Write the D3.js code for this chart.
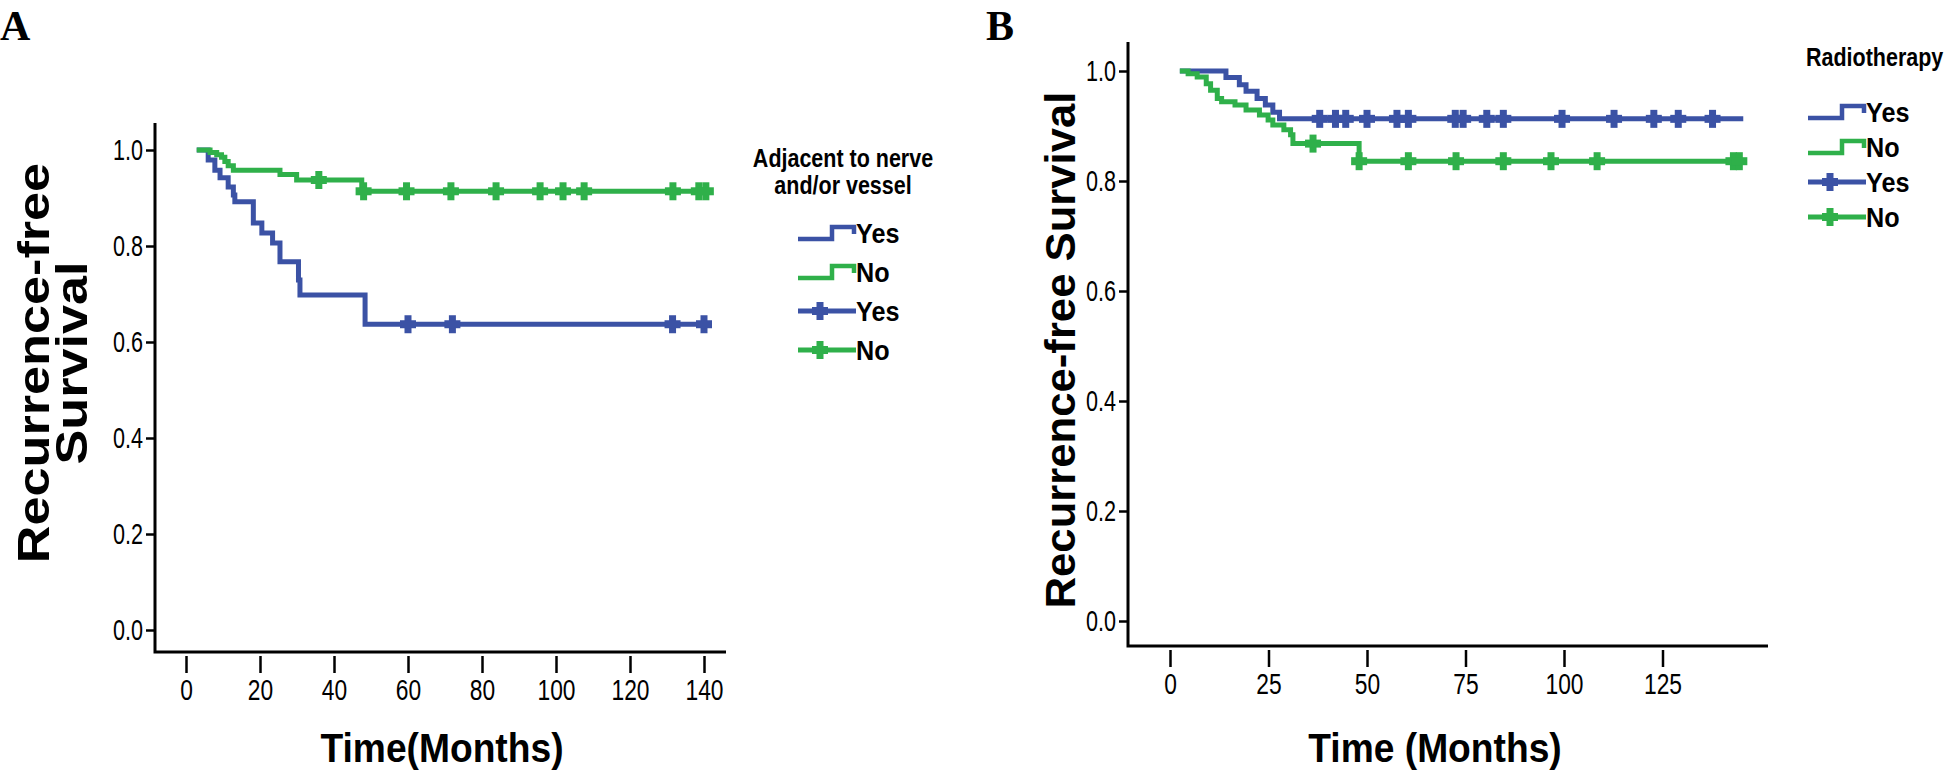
<!DOCTYPE html>
<html>
<head>
<meta charset="utf-8">
<script src="https://cdn.jsdelivr.net/npm/d3@7"></script>
<style>
  html, body { margin: 0; padding: 0; background: #fff; }
  svg { display: block; }
</style>
</head>
<body>
<script>
// ---- data (months, survival) ----
const
  yTickValues   = [0, 0.2, 0.4, 0.6, 0.8, 1.0],
  aTickValues   = [0, 20, 40, 60, 80, 100, 120, 140],
  bTickValues   = [0, 25, 50, 75, 100, 125],
  legendLabels  = ['Yes', 'No', 'Yes', 'No'],

  // panel A : adjacent to nerve and/or vessel
  aYesSteps     = [[2.9, 1], [6.0, 0.979], [7.8, 0.958], [9.2, 0.942], [11.4, 0.923], [12.8, 0.906], [13.2, 0.892],
                   [18.2, 0.848], [20.5, 0.827], [23.4, 0.806], [25.4, 0.767], [30.4, 0.729], [30.8, 0.698],
                   [48.4, 0.637], [141, 0.637]],
  aNoSteps      = [[2.9, 1], [6.5, 0.995], [8.3, 0.99], [9.6, 0.985], [10.5, 0.976], [11.4, 0.967], [12.8, 0.958],
                   [25.4, 0.949], [29.9, 0.9375], [47.5, 0.914], [141, 0.914]],
  aYesCensored  = [60, 72, 131.5, 140],
  aNoCensored   = [35.9, 48, 59.6, 71.6, 83.8, 95.7, 101.9, 107.6, 131.6, 138.6, 140.5],

  // panel B : radiotherapy
  bYesSteps     = [[2.5, 1], [14.2, 0.988], [17.6, 0.975], [19.3, 0.963], [22.1, 0.95], [24.2, 0.938], [26.1, 0.925],
                   [27.8, 0.913], [145.5, 0.913]],
  bNoSteps      = [[2.5, 1], [4.6, 0.995], [6.9, 0.989], [9.2, 0.977], [10.3, 0.965], [12, 0.95], [13.1, 0.944],
                   [16.5, 0.938], [19.3, 0.929], [22.7, 0.92], [24.9, 0.911], [26.1, 0.902], [28.9, 0.893],
                   [30.6, 0.884], [31.2, 0.868], [48, 0.836], [145.5, 0.836]],
  bYesCensored  = [38, 42, 44.6, 50, 57.6, 60.5, 72.4, 74.4, 80.4, 84.6, 99.5, 112.7, 122.8, 129, 137.7],
  bNoCensored   = [36.3, 48, 60.5, 72.6, 84.6, 96.7, 108.4, 143, 144.5]

const
  BLUE  = '#3b52a5',
  GREEN = '#2fb04a',
  FONT  = "'Liberation Sans', Arial, sans-serif"

const svg = d3.select('body').append('svg')
  .attr('width', 1946)
  .attr('height', 778)

function text(g, str, x, y, size, opts = {})
{
  return g.append('text')
    .attr('transform', `translate(${x},${y}) rotate(${opts.rotate || 0}) scale(${opts.sx || 1},1)`)
    .attr('text-anchor', opts.anchor || 'start')
    .attr('font-family', opts.family || FONT)
    .attr('font-weight', opts.weight || 'bold')
    .attr('font-size', size)
    .attr('fill', '#000')
    .text(str)
}

function censorMark(g, x, y, color)
{
  g.append('rect').attr('x', x - 3.5).attr('y', y - 9).attr('width', 7).attr('height', 18).attr('fill', color)
  g.append('rect').attr('x', x - 8).attr('y', y - 4).attr('width', 16).attr('height', 8).attr('fill', color)
}

function stepValue(steps, t)
{
  let v = steps[0][1]
  steps.forEach(d => { if(d[0] <= t) v = d[1] })
  return v
}

function drawPanel(p)
{
  const
    g     = svg.append('g'),
    x     = d3.scaleLinear().domain([0, p.xMaxTick]).range([p.x0, p.x0 + p.pxPerMonth * p.xMaxTick]),
    y     = d3.scaleLinear().domain([0, 1]).range([p.y0, p.y1]),
    line  = d3.line().x(d => x(d[0])).y(d => y(d[1])).curve(d3.curveStepAfter)

  // axes
  const yAxis = g.append('g')
    .attr('transform', `translate(${p.axisX},0)`)
    .call(d3.axisLeft(y).tickValues(yTickValues).tickFormat(d3.format('.1f')).tickSize(9).tickPadding(3))
  yAxis.select('.domain').remove()
  yAxis.selectAll('line').attr('stroke-width', 2.5)
  yAxis.selectAll('text')
    .attr('font-family', FONT).attr('font-size', 30)
    .attr('transform', 'scale(0.72,1)').attr('x', -12 / 0.72)

  const xAxis = g.append('g')
    .attr('transform', `translate(0,${p.xAxisY + 4})`)
    .call(d3.axisBottom(x).tickValues(p.ticks).tickSize(17).tickPadding(6))
  xAxis.select('.domain').remove()
  xAxis.selectAll('line').attr('stroke-width', 2.5)
  xAxis.selectAll('text')
    .attr('font-family', FONT).attr('font-size', 30)
    .attr('transform', 'scale(0.76,1)')

  g.append('path')
    .attr('d', `M${p.axisX},${p.axisTop}V${p.xAxisY}H${p.xAxisRight}`)
    .attr('fill', 'none').attr('stroke', '#000').attr('stroke-width', 3)

  // curves
  p.series.forEach(s =>
  {
    g.append('path')
      .attr('d', line(s.steps))
      .attr('fill', 'none').attr('stroke', s.color).attr('stroke-width', 5)
    s.censored.forEach(t => censorMark(g, x(t), y(stepValue(s.steps, t)), s.color))
  })

  // titles
  text(g, p.letter, p.letterX, 40, 42, {family: "'Liberation Serif', 'Times New Roman', serif"})
  p.yTitle.forEach((row, i) =>
    text(g, row, p.yTitleX + i * p.yTitleGap, p.yTitleY, p.yTitleSize, {rotate: -90, anchor: 'middle', sx: p.yTitleSx}))
  text(g, p.xTitle, p.xTitleX, 762, 40, {anchor: 'middle', sx: 0.93})

  // legend
  const lg = p.legend
  lg.title.forEach((row, i) => text(g, row, lg.titleX, lg.titleY + i * 27, 25, {anchor: lg.titleAnchor, sx: 0.86}))
  legendLabels.forEach((label, i) =>
  {
    const
      yc    = lg.itemY + i * lg.gap,
      color = i % 2 === 0 ? BLUE : GREEN,
      x0    = lg.x

    if(i < 2)
    {
      g.append('path')
        .attr('d', `M${x0},${yc + 6}H${x0 + 34}V${yc - 6}H${x0 + 56}V${yc + 1}`)
        .attr('fill', 'none').attr('stroke', color).attr('stroke-width', 4.5)
    }
    else
    {
      g.append('path')
        .attr('d', `M${x0},${yc}H${x0 + 58}`)
        .attr('stroke', color).attr('stroke-width', 5)
      censorMark(g, x0 + 22, yc, color)
    }
    text(g, label, x0 + 58, yc + 10, 28, {sx: 0.9})
  })
}

drawPanel({
  letter: 'A', letterX: 0,
  axisX: 155, axisTop: 123, xAxisY: 652, xAxisRight: 726,
  x0: 186, pxPerMonth: 3.7, xMaxTick: 140, ticks: aTickValues,
  y0: 630, y1: 150,
  yTitle: ['Recurrence-free', 'Survival'], yTitleX: 49, yTitleGap: 38, yTitleY: 363, yTitleSize: 45, yTitleSx: 1.16,
  xTitle: 'Time(Months)', xTitleX: 442,
  series: [
    {steps: aYesSteps, censored: aYesCensored, color: BLUE},
    {steps: aNoSteps,  censored: aNoCensored,  color: GREEN}
  ],
  legend: {title: ['Adjacent to nerve', 'and/or vessel'], titleX: 843, titleY: 167, titleAnchor: 'middle',
           x: 798, itemY: 233, gap: 39}
})

drawPanel({
  letter: 'B', letterX: 986,
  axisX: 1128, axisTop: 42, xAxisY: 646, xAxisRight: 1768,
  x0: 1170, pxPerMonth: 3.94, xMaxTick: 125, ticks: bTickValues,
  y0: 621, y1: 71,
  yTitle: ['Recurrence-free Survival'], yTitleX: 1075, yTitleGap: 0, yTitleY: 350, yTitleSize: 42, yTitleSx: 1.04,
  xTitle: 'Time (Months)', xTitleX: 1435,
  series: [
    {steps: bYesSteps, censored: bYesCensored, color: BLUE},
    {steps: bNoSteps,  censored: bNoCensored,  color: GREEN}
  ],
  legend: {title: ['Radiotherapy'], titleX: 1806, titleY: 66, titleAnchor: 'start',
           x: 1808, itemY: 112, gap: 35}
})
</script>
</body>
</html>
